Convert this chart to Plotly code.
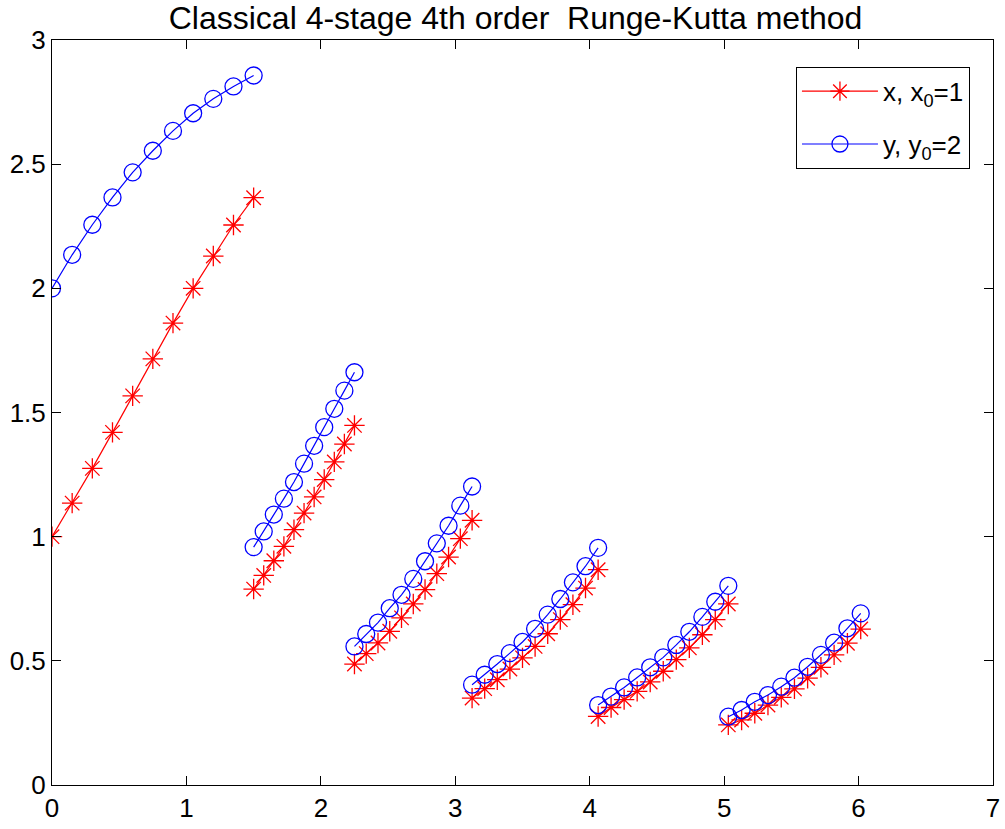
import plotly.graph_objects as go

# time points of each segment
t_seg1 = [0.0, 0.15, 0.3, 0.45, 0.6, 0.75, 0.9, 1.05, 1.2, 1.35, 1.5]
t_seg2 = [1.5, 1.575, 1.65, 1.725, 1.8, 1.875, 1.95, 2.025, 2.1, 2.175, 2.25]
t_seg3 = [2.25, 2.3375, 2.425, 2.5125, 2.6, 2.6875, 2.775, 2.8625, 2.95, 3.0375, 3.125]
t_seg4 = [3.125, 3.21875, 3.3125, 3.40625, 3.5, 3.59375, 3.6875, 3.78125, 3.875, 3.96875, 4.0625]
t_seg5 = [4.0625, 4.159, 4.256, 4.353, 4.450, 4.547, 4.644, 4.741, 4.838, 4.934, 5.031]
t_seg6 = [5.031, 5.130, 5.228, 5.326, 5.425, 5.523, 5.621, 5.720, 5.818, 5.917, 6.016]

x_seg1 = [1.0, 1.135, 1.275, 1.42, 1.567, 1.716, 1.860, 2.0, 2.130, 2.255, 2.365]
x_seg2 = [0.789, 0.844, 0.903, 0.961, 1.028, 1.095, 1.160, 1.230, 1.301, 1.373, 1.448]
x_seg3 = [0.487, 0.529, 0.572, 0.619, 0.673, 0.729, 0.787, 0.851, 0.918, 0.992, 1.066]
x_seg4 = [0.350, 0.388, 0.424, 0.467, 0.512, 0.558, 0.609, 0.666, 0.726, 0.793, 0.867]
x_seg5 = [0.276, 0.312, 0.344, 0.377, 0.415, 0.458, 0.505, 0.552, 0.605, 0.666, 0.729]
x_seg6 = [0.242, 0.262, 0.289, 0.322, 0.353, 0.387, 0.430, 0.474, 0.524, 0.571, 0.628]

y_seg1 = [2.0, 2.135, 2.256, 2.366, 2.467, 2.554, 2.634, 2.705, 2.763, 2.813, 2.857]
y_seg2 = [0.958, 1.021, 1.089, 1.153, 1.220, 1.294, 1.366, 1.441, 1.515, 1.588, 1.662]
y_seg3 = [0.558, 0.608, 0.654, 0.712, 0.766, 0.830, 0.901, 0.973, 1.044, 1.125, 1.202]
y_seg4 = [0.404, 0.444, 0.487, 0.531, 0.576, 0.629, 0.686, 0.749, 0.816, 0.881, 0.955]
y_seg5 = [0.322, 0.356, 0.393, 0.433, 0.474, 0.514, 0.564, 0.617, 0.677, 0.738, 0.802]
y_seg6 = [0.275, 0.302, 0.335, 0.362, 0.396, 0.432, 0.476, 0.524, 0.573, 0.631, 0.691]

x_ticks = [0, 1, 2, 3, 4, 5, 6, 7]
y_ticks = [0, 0.5, 1, 1.5, 2, 2.5, 3]
y_tick_labels = ["0", "0.5", "1", "1.5", "2", "2.5", "3"]

t_segs = [t_seg1, t_seg2, t_seg3, t_seg4, t_seg5, t_seg6]
x_segs = [x_seg1, x_seg2, x_seg3, x_seg4, x_seg5, x_seg6]
y_segs = [y_seg1, y_seg2, y_seg3, y_seg4, y_seg5, y_seg6]


def join(segs):
    out = []
    for i, s in enumerate(segs):
        if i:
            out.append(None)
        out.extend(s)
    return out


T = join(t_segs)
X = join(x_segs)
Y = join(y_segs)

FONT = "Liberation Sans, Arial, Helvetica, sans-serif"

fig = go.Figure()
fig.add_trace(go.Scatter(
    x=T, y=X, mode="lines+markers", name="x, x<sub>0</sub>=1",
    legendgroup="a",
    line=dict(color="#ff0000", width=1.2),
    marker=dict(symbol="asterisk-open", size=17, color="#ff0000",
                line=dict(color="#ff0000", width=1.3)),
    connectgaps=False,
))
fig.add_trace(go.Scatter(
    x=T, y=Y, mode="lines+markers", name="y, y<sub>0</sub>=2",
    legendgroup="b",
    line=dict(color="#0000ff", width=1.2),
    marker=dict(symbol="circle-open", size=17, color="#0000ff",
                line=dict(color="#0000ff", width=1.3)),
    connectgaps=False,
))

axis_common = dict(
    showgrid=False, zeroline=False, showline=True, linecolor="black",
    linewidth=1, mirror="ticks", ticks="inside", ticklen=9, tickwidth=1,
    tickcolor="black", tickfont=dict(family=FONT, size=26, color="black"),
)

fig.update_layout(
    width=1005, height=829,
    margin=dict(l=52, r=12, t=40, b=44),
    paper_bgcolor="white", plot_bgcolor="white",
    title=dict(text="Classical 4-stage 4th order  Runge-Kutta method",
               x=0.513, xanchor="center", y=0.978, yanchor="middle",
               font=dict(family=FONT, size=32, color="black")),
    xaxis=dict(range=[0, 7], tickvals=x_ticks, automargin=False, **axis_common),
    yaxis=dict(range=[0, 3], tickvals=y_ticks, ticktext=y_tick_labels,
               automargin=False, **axis_common),
    legend=dict(x=0.9755, xanchor="right", y=0.964, yanchor="top",
                bgcolor="white", bordercolor="black", borderwidth=1,
                font=dict(family=FONT, size=26, color="black"),
                itemwidth=76, tracegroupgap=16),
    showlegend=True,
)

fig.write_html(
    "out.html",
    config={"displayModeBar": False},
    post_script="document.body.style.margin='0px';document.body.style.padding='0px';",
)
